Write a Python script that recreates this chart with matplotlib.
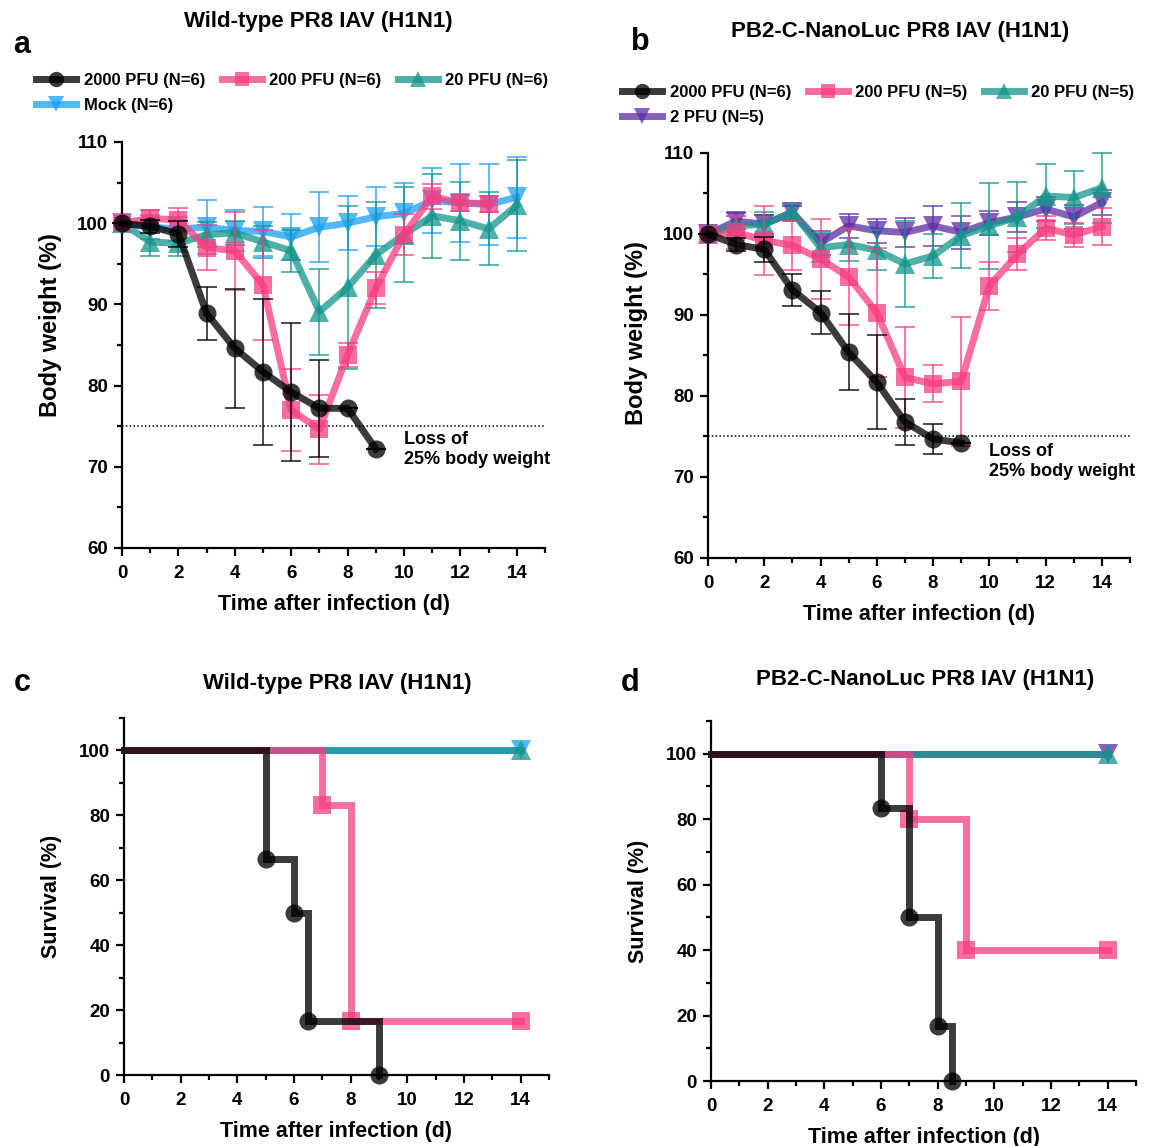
import matplotlib
matplotlib.use("Agg")
import matplotlib.pyplot as plt
import numpy as np
from matplotlib.ticker import MultipleLocator
from matplotlib.lines import Line2D

plt.rcParams['font.family'] = ['Liberation Sans', 'DejaVu Sans']
plt.rcParams['font.weight'] = 'bold'

# ---------------- data: panel a (Wild-type body weight) ----------------
days_a = list(range(15))
a_2000_mean = [100, 99.6, 98.7, 88.9, 84.6, 81.7, 79.2, 77.2, 77.2, 72.2]
a_2000_sd = [0, 0.8, 1.6, 3.3, 7.3, 9.0, 8.5, 6.0, 0, 0]
a_200_mean = [100, 100.6, 100.4, 97.0, 96.6, 92.4, 77.0, 74.6, 83.8, 92.0, 98.6, 103.3, 102.5, 102.4]
a_200_sd = [0, 1.0, 1.5, 2.8, 4.8, 6.8, 5.0, 4.3, 1.5, 2.0, 2.5, 1.5, 1.0, 1.0]
a_20_mean = [100, 97.7, 97.5, 98.6, 98.8, 97.7, 96.6, 89.1, 92.1, 96.1, 98.6, 100.9, 100.3, 99.3, 102.2]
a_20_sd = [0, 1.8, 1.5, 1.5, 1.5, 2.0, 2.6, 5.3, 10.0, 6.5, 5.9, 5.2, 4.8, 4.5, 5.6]
a_mock_mean = [100, 99.5, 99.3, 99.5, 99.1, 99.0, 98.3, 99.5, 100.0, 100.8, 101.2, 102.8, 102.5, 102.3, 103.2]
a_mock_sd = [0, 1.5, 1.5, 3.3, 2.5, 3.0, 2.8, 4.3, 3.3, 3.6, 3.7, 4.0, 4.8, 5.0, 5.0]

# ---------------- data: panel b (PB2-C-NanoLuc body weight) ----------------
b_2000_mean = [100, 98.7, 98.1, 93.1, 90.3, 85.4, 81.7, 76.8, 74.7, 74.2]
b_2000_sd = [0, 0.8, 1.5, 2.0, 2.7, 4.7, 5.8, 2.8, 1.8, 0]
b_200_mean = [100, 100.2, 99.2, 98.6, 96.9, 94.7, 90.3, 82.3, 81.5, 81.8, 93.6, 97.5, 100.7, 99.9, 100.9]
b_200_sd = [0, 2.0, 4.3, 3.0, 4.9, 5.9, 8.0, 6.2, 2.3, 8.0, 3.0, 2.0, 1.5, 1.5, 2.3]
b_20_mean = [100, 101.0, 101.2, 102.7, 98.3, 98.7, 98.0, 96.3, 97.3, 99.8, 101.0, 102.1, 104.7, 104.5, 105.7]
b_20_sd = [0, 1.2, 1.5, 1.0, 1.8, 2.0, 2.5, 5.3, 2.7, 4.0, 5.3, 4.3, 4.0, 3.3, 4.3]
b_2_mean = [100, 101.6, 101.2, 102.7, 98.9, 101.0, 100.4, 100.2, 101.0, 100.2, 101.4, 102.1, 103.1, 102.1, 103.9]
b_2_sd = [0, 1.0, 1.2, 0.8, 1.5, 1.5, 1.5, 1.8, 2.5, 2.0, 1.5, 1.8, 1.5, 1.5, 1.5]

# ---------------- data: panel c (Wild-type survival) ----------------
c_2000_t = [0, 5, 6, 6.5, 9]
c_2000_s = [100, 66.7, 50, 16.7, 0]
c_200_t = [0, 7, 8, 14]
c_200_s = [100, 83.3, 16.7, 16.7]
c_20_t = [0, 14]
c_20_s = [100, 100]
c_mock_t = [0, 14]
c_mock_s = [100, 100]

# ---------------- data: panel d (PB2-C-NanoLuc survival) ----------------
d_2000_t = [0, 6, 7, 8, 8.5]
d_2000_s = [100, 83.3, 50, 16.7, 0]
d_200_t = [0, 7, 9, 14]
d_200_s = [100, 80, 40, 40]
d_20_t = [0, 14]
d_20_s = [100, 100]
d_2_t = [0, 14]
d_2_s = [100, 100]

labels_a = ["2000 PFU (N=6)", "200 PFU (N=6)", "20 PFU (N=6)", "Mock (N=6)"]
labels_b = ["2000 PFU (N=6)", "200 PFU (N=5)", "20 PFU (N=5)", "2 PFU (N=5)"]

C_BLACK = '#000000'
C_PINK = '#F73C82'
C_TEAL = '#14958C'
C_BLUE = '#1AA0F5'
C_PURPLE = '#5E2CA5'
ALPHA = 0.75
LW = 5
TICK_FS = 13.5
LABEL_FS = 15.5
YLABEL_FS = 17
TITLE_FS = 16

style = {
    'k': dict(color=C_BLACK, marker='o', ms=13, alpha=0.77),
    'p': dict(color=C_PINK, marker='s', ms=12.5, alpha=ALPHA),
    't': dict(color=C_TEAL, marker='^', ms=14, alpha=ALPHA),
    'b': dict(color=C_BLUE, marker='v', ms=14, alpha=ALPHA),
    'u': dict(color=C_PURPLE, marker='v', ms=14, alpha=ALPHA),
}

W, H = 1157, 1146
fig = plt.figure(figsize=(W / 100, H / 100), dpi=100)


def px_axes(left, top, right, bottom):
    return fig.add_axes([left / W, 1 - bottom / H, (right - left) / W, (bottom - top) / H])


def style_axes(ax, ymin, ymax, ymaj, ymin_step):
    for s in ['top', 'right']:
        ax.spines[s].set_visible(False)
    for s in ['left', 'bottom']:
        ax.spines[s].set_linewidth(1.6)
    ax.set_xlim(0, 15)
    ax.set_ylim(ymin, ymax)
    ax.set_xticks(range(0, 15, 2))
    ax.xaxis.set_minor_locator(MultipleLocator(1))
    ax.yaxis.set_major_locator(MultipleLocator(ymaj))
    ax.yaxis.set_minor_locator(MultipleLocator(ymin_step))
    ax.tick_params(which='major', direction='out', length=6, width=1.6, labelsize=TICK_FS, pad=4)
    ax.tick_params(axis='x', which='major', pad=6)
    ax.tick_params(which='minor', direction='out', length=3.5, width=1.6)
    for lab in ax.get_xticklabels() + ax.get_yticklabels():
        lab.set_fontweight('bold')
    ax.set_xlabel("Time after infection (d)", fontsize=LABEL_FS, fontweight='bold', labelpad=9)


def weight_series(ax, mean, sd, key, z):
    st = style[key]
    x = days_a[:len(mean)]
    ax.errorbar(x, mean, yerr=sd, fmt='none', ecolor=st['color'], alpha=st['alpha'],
                elinewidth=1.3, capsize=7, capthick=1.3, zorder=z, clip_on=False)
    ln, = ax.plot(x, mean, color=st['color'], lw=LW, marker=st['marker'], ms=st['ms'],
                  alpha=st['alpha'], markeredgewidth=0, zorder=z + 0.5, clip_on=False)
    return ln


def surv_series(ax, t, s, key, z):
    st = style[key]
    ax.plot(t, s, drawstyle='steps-post', color=st['color'], lw=LW, marker=st['marker'],
            ms=st['ms'], markevery=list(range(1, len(t))), alpha=st['alpha'],
            markeredgewidth=0, zorder=z, clip_on=False, solid_joinstyle='miter')


def legend_handles(keys):
    hs = []
    for k in keys:
        st = style[k]
        hs.append(Line2D([0], [0], color=st['color'], lw=LW, marker=st['marker'], ms=st['ms'] * 0.85,
                         alpha=st['alpha'], markeredgewidth=0))
    return hs


def row_major(items, ncol=3):
    # legend fills column-wise; reorder so that entries read row by row
    nrow = int(np.ceil(len(items) / ncol))
    out = []
    for c in range(ncol):
        for r in range(nrow):
            i = r * ncol + c
            if i < len(items):
                out.append(items[i])
    return out


# ---------------- panel a ----------------
axa = px_axes(122, 142, 545, 548)
style_axes(axa, 60, 110, 10, 5)
weight_series(axa, a_mock_mean, a_mock_sd, 'b', 2)
weight_series(axa, a_20_mean, a_20_sd, 't', 3)
weight_series(axa, a_200_mean, a_200_sd, 'p', 4)
weight_series(axa, a_2000_mean, a_2000_sd, 'k', 5)
axa.axhline(75, color='black', lw=1.1, ls=(0, (1, 1.5)), zorder=1)
axa.text(10.0, 74.4, "Loss of\n25% body weight", fontsize=13, fontweight='bold', va='top', ha='left',
         linespacing=1.25)
axa.set_ylabel("Body weight (%)", fontsize=YLABEL_FS, fontweight='bold')
axa.yaxis.set_label_coords(-0.142, 0.55)

# ---------------- panel b ----------------
axb = px_axes(708, 153, 1130, 558)
style_axes(axb, 60, 110, 10, 5)
weight_series(axb, b_2_mean, b_2_sd, 'u', 2)
weight_series(axb, b_20_mean, b_20_sd, 't', 3)
weight_series(axb, b_200_mean, b_200_sd, 'p', 4)
weight_series(axb, b_2000_mean, b_2000_sd, 'k', 5)
axb.axhline(75, color='black', lw=1.1, ls=(0, (1, 1.5)), zorder=1)
axb.text(10.0, 74.2, "Loss of\n25% body weight", fontsize=13, fontweight='bold', va='top', ha='left',
         linespacing=1.25)
axb.set_ylabel("Body weight (%)", fontsize=YLABEL_FS, fontweight='bold')
axb.yaxis.set_label_coords(-0.142, 0.555)

# ---------------- panel c ----------------
axc = px_axes(124, 718, 549, 1075)
style_axes(axc, 0, 110, 20, 10)
axc.set_yticks(range(0, 101, 20))
surv_series(axc, c_mock_t, c_mock_s, 'b', 2)
surv_series(axc, c_20_t, c_20_s, 't', 3)
surv_series(axc, c_200_t, c_200_s, 'p', 4)
surv_series(axc, c_2000_t, c_2000_s, 'k', 5)
axc.set_ylabel("Survival (%)", fontsize=LABEL_FS, fontweight='bold')
axc.yaxis.set_label_coords(-0.146, 0.5)

# ---------------- panel d ----------------
axd = px_axes(711, 721, 1136, 1081)
style_axes(axd, 0, 110, 20, 10)
axd.set_yticks(range(0, 101, 20))
surv_series(axd, d_2_t, d_2_s, 'u', 2)
surv_series(axd, d_20_t, d_20_s, 't', 3)
surv_series(axd, d_200_t, d_200_s, 'p', 4)
surv_series(axd, d_2000_t, d_2000_s, 'k', 5)
axd.set_ylabel("Survival (%)", fontsize=LABEL_FS, fontweight='bold')
axd.yaxis.set_label_coords(-0.146, 0.5)

# ---------------- legends ----------------
leg_kw = dict(loc='upper left', ncol=3, frameon=False, handlelength=2.4, handletextpad=0.45,
              columnspacing=1.0, labelspacing=0.6, borderpad=0, borderaxespad=0,
              prop={'weight': 'bold', 'size': 12})
fig.legend(row_major(legend_handles(['k', 'p', 't', 'b'])), row_major(labels_a),
           bbox_to_anchor=(36 / W, 1 - 73 / H), **leg_kw)
fig.legend(row_major(legend_handles(['k', 'p', 't', 'u'])), row_major(labels_b),
           bbox_to_anchor=(622 / W, 1 - 85 / H), **leg_kw)

# ---------------- titles and panel letters ----------------
fig.text(318 / W, 1 - 21 / H, "Wild-type PR8 IAV (H1N1)", ha='center', va='center',
         fontsize=TITLE_FS, fontweight='bold')
fig.text(900 / W, 1 - 32 / H, "PB2-C-NanoLuc PR8 IAV (H1N1)", ha='center', va='center',
         fontsize=TITLE_FS, fontweight='bold')
fig.text(337 / W, 1 - 683 / H, "Wild-type PR8 IAV (H1N1)", ha='center', va='center',
         fontsize=TITLE_FS, fontweight='bold')
fig.text(925 / W, 1 - 680 / H, "PB2-C-NanoLuc PR8 IAV (H1N1)", ha='center', va='center',
         fontsize=TITLE_FS, fontweight='bold')
for letter, x, y in [('a', 22, 45), ('b', 640, 42), ('c', 22, 683), ('d', 630, 683)]:
    fig.text(x / W, 1 - y / H, letter, ha='center', va='center', fontsize=22, fontweight='bold')

fig.savefig("out.png", dpi=100)
